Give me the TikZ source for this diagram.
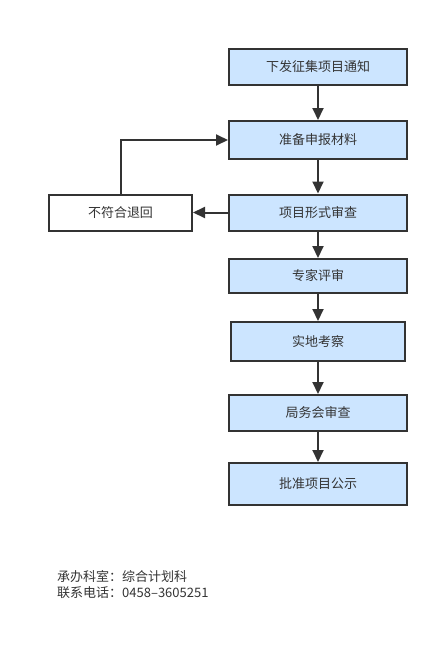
\documentclass[tikz,border=0pt]{standalone}
\usepackage{fontspec}
\setmainfont{Noto Sans CJK SC}
\usetikzlibrary{arrows.meta,positioning}
\definecolor{boxblue}{RGB}{204,229,255}
\definecolor{linegray}{RGB}{51,51,51}
\tikzset{
  stepbox/.style={draw=linegray, line width=2pt, fill=boxblue, inner sep=0pt,
    minimum width=178pt, minimum height=36pt, text=linegray,
    font=\fontsize{13}{15}\selectfont},
  backbox/.style={stepbox, fill=white, minimum width=143pt},
  flow/.style={-{Triangle[length=12pt,width=11pt]}, line width=2pt, draw=linegray}
}

\begin{document}
\begin{tikzpicture}[x=1pt,y=-1pt]
\useasboundingbox (0,0) rectangle (440,654);
% main column
\node[stepbox] (notice) at (318,67) {下发征集项目通知};
\node[stepbox, minimum height=38pt] (prepare) at (318,140) {准备申报材料};
\node[stepbox] (formal) at (318,212.5) {项目形式审查};
\node[backbox] (reject) at (120.5,212.5) {不符合退回};
\node[stepbox, minimum height=34pt] (expert) at (318,276) {专家评审};
\node[stepbox, minimum width=174pt, minimum height=39pt] (visit) at (318,341.5) {实地考察};
\node[stepbox] (board) at (318,413) {局务会审查};
\node[stepbox, minimum height=42pt] (publish) at (318,484) {批准项目公示};
% arrows
\draw[flow] (notice) -- (prepare);
\draw[flow] (prepare) -- (formal);
\draw[flow] (formal) -- (reject);
\draw[flow] (reject.north) |- (prepare.west);
\draw[flow] (formal) -- (expert);
\draw[flow] (expert) -- (visit);
\draw[flow] (visit) -- (board);
\draw[flow] (board) -- (publish);
% footer
\node[anchor=north west, align=left, inner sep=0pt, text=linegray,
      font=\fontsize{13}{16}\selectfont] (contact) at (57,570)
  {承办科室：综合计划科\\联系电话：0458–3605251};
\end{tikzpicture}
\end{document}
